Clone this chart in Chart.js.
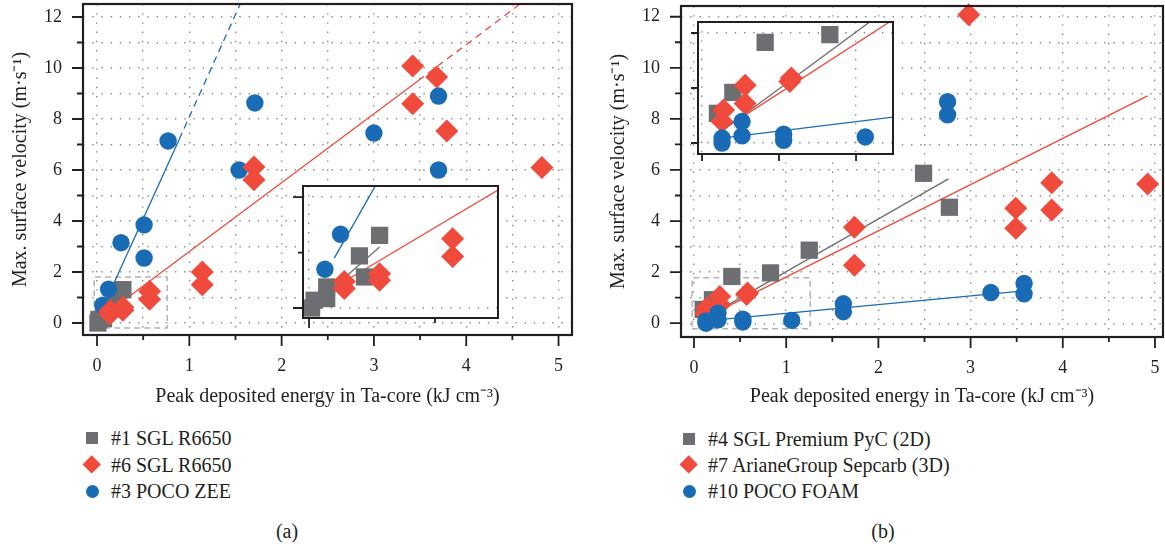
<!DOCTYPE html>
<html>
<head>
<meta charset="utf-8">
<script src="https://cdn.jsdelivr.net/npm/chart.js@4.4.1/dist/chart.umd.min.js"></script>
<style>
  body { margin: 0; background: #fff; }
  #wrap { position: relative; width: 1165px; height: 548px; overflow: hidden;
          font-family: 'Liberation Serif', 'Times New Roman', serif; color: #231f20; }
  canvas { position: absolute; }
  .leg { position: absolute; font-size: 20px; line-height: 20px; white-space: nowrap; }
  .mk { position: absolute; }
</style>
</head>
<body>
<div id="wrap">
  <canvas id="mainA" width="580" height="410" style="left:0;top:0"></canvas>
  <canvas id="mainB" width="585" height="412" style="left:580px;top:0"></canvas>
  <canvas id="insetA" width="220" height="160" style="left:288px;top:180px"></canvas>
  <canvas id="insetB" width="220" height="160" style="left:683px;top:12px"></canvas>
</div>
<script>
/*------------------------------- DATA -------------------------------*/
// (a) panel
const sgl1 = [
  {x: 0.01, y: 0.0}, {x: 0.02, y: 0.14}, {x: 0.07, y: 0.17}, {x: 0.07, y: 0.38},
  {x: 0.2, y: 0.94}, {x: 0.22, y: 0.56}, {x: 0.28, y: 1.31}
];
const sgl6 = [
  {x: 0.14, y: 0.35}, {x: 0.14, y: 0.48}, {x: 0.28, y: 0.5}, {x: 0.28, y: 0.62},
  {x: 0.57, y: 0.93}, {x: 0.57, y: 1.25}, {x: 1.14, y: 1.5}, {x: 1.14, y: 2.0},
  {x: 1.7, y: 5.62}, {x: 1.7, y: 6.12}, {x: 3.42, y: 8.6}, {x: 3.42, y: 10.08},
  {x: 3.68, y: 9.65}, {x: 3.79, y: 7.53}, {x: 4.82, y: 6.1}
];
const pocoZee = [
  {x: 0.063, y: 0.7}, {x: 0.125, y: 1.33}, {x: 0.26, y: 3.15}, {x: 0.51, y: 2.55},
  {x: 0.51, y: 3.85}, {x: 0.77, y: 7.14}, {x: 1.54, y: 6.0}, {x: 1.71, y: 8.63},
  {x: 3.0, y: 7.45}, {x: 3.7, y: 6.0}, {x: 3.7, y: 8.9}
];
// fit lines (a), end points
const fitSgl1 = [{x: 0.07, y: 0.26}, {x: 0.28, y: 1.1}];
const fitSgl6 = [{x: 0.1, y: 0.37}, {x: 3.48, y: 9.5}];
const fitSgl6Ext = [{x: 3.48, y: 9.5}, {x: 4.58, y: 12.5}];
const fitZee = [{x: 0.1, y: 0.9}, {x: 0.89, y: 7.2}];
const fitZeeExt = [{x: 0.89, y: 7.2}, {x: 1.55, y: 12.5}];
const zoomBoxA = [{x: -0.03, y: -0.2}, {x: 0.76, y: -0.2}, {x: 0.76, y: 1.8}, {x: -0.03, y: 1.8}, {x: -0.03, y: -0.2}];

// (b) panel
const pyc4 = [
  {x: 0.1, y: 0.54}, {x: 0.2, y: 0.92}, {x: 0.41, y: 1.83}, {x: 0.83, y: 1.97},
  {x: 1.25, y: 2.86}, {x: 2.49, y: 5.87}, {x: 2.77, y: 4.54}
];
const sepcarb7 = [
  {x: 0.13, y: 0.39}, {x: 0.14, y: 0.6}, {x: 0.28, y: 0.72}, {x: 0.28, y: 1.05},
  {x: 0.57, y: 1.12}, {x: 0.58, y: 1.18}, {x: 1.74, y: 3.76}, {x: 1.74, y: 2.27},
  {x: 2.98, y: 12.08}, {x: 3.49, y: 4.5}, {x: 3.49, y: 3.72}, {x: 3.88, y: 5.5},
  {x: 3.88, y: 4.43}, {x: 4.92, y: 5.45}
];
const pocoFoam = [
  {x: 0.13, y: 0.0}, {x: 0.13, y: 0.09}, {x: 0.26, y: 0.13}, {x: 0.26, y: 0.39},
  {x: 0.53, y: 0.05}, {x: 0.53, y: 0.16}, {x: 1.06, y: 0.11}, {x: 1.62, y: 0.45},
  {x: 1.62, y: 0.76}, {x: 2.75, y: 8.16}, {x: 2.75, y: 8.67}, {x: 3.22, y: 1.2},
  {x: 3.58, y: 1.15}, {x: 3.58, y: 1.56}
];
const fitPyc = [{x: 0.1, y: 0.16}, {x: 2.76, y: 5.65}];
const fitSepcarb = [{x: 0.1, y: 0.18}, {x: 4.92, y: 8.9}];
const fitFoam = [{x: 0.1, y: 0.08}, {x: 3.55, y: 1.26}];
const zoomBoxB = [{x: -0.02, y: -0.22}, {x: 1.26, y: -0.22}, {x: 1.26, y: 1.78}, {x: -0.02, y: 1.78}, {x: -0.02, y: -0.22}];

// axes
const xTitle = 'Peak deposited energy in Ta-core (kJ cm\u207B\u00B3)';
const yTitle = 'Max. surface velocity (m\u00B7s\u207B\u00B9)';
const legendA = ['#1 SGL R6650', '#6 SGL R6650', '#3 POCO ZEE'];
const legendB = ['#4 SGL Premium PyC (2D)', '#7 ArianeGroup Sepcarb (3D)', '#10 POCO FOAM'];

/*------------------------------- STYLE -------------------------------*/
const GRAY = '#6d6e71';
const RED = '#ef4a3c';
const BLUE = '#1a6bb5';
const INK = '#231f20';
const FONT = "'Liberation Serif', 'Times New Roman', serif";

//Markers och linjer
function marks(data, style, color) {
  const r = style === 'rect' ? 12.2 : style === 'rectRot' ? 11.5 : 8.7;
  return {
    data: data, pointStyle: style, pointRadius: r, pointHoverRadius: r,
    backgroundColor: color, borderWidth: 0, pointBorderWidth: 0, clip: false,
  };
}
function fit(data, color, dashed) {
  return {
    data: data, showLine: true, pointRadius: 0, borderColor: color,
    borderWidth: 1.3, borderDash: dashed ? [7, 5] : [], fill: false,
  };
}
function box(data) {
  return {
    data: data, showLine: true, pointRadius: 0, borderColor: '#b3b3b3',
    borderWidth: 1.5, borderDash: [6, 4], fill: false, clip: false,
  };
}

//Ram och tick-streck
const frameTicks = {
  id: 'frameTicks',
  beforeDraw(chart, args, opts) {
    if (!opts.whiteBg) return;
    const a = chart.chartArea;
    const ctx = chart.ctx;
    ctx.save();
    ctx.fillStyle = '#fff';
    ctx.fillRect(a.left, a.top, a.right - a.left, a.bottom - a.top);
    ctx.restore();
  },
  afterDraw(chart, args, opts) {
    const {ctx, chartArea: a, scales} = chart;
    ctx.save();
    ctx.strokeStyle = INK;
    ctx.lineWidth = opts.frame;
    ctx.strokeRect(a.left, a.top, a.right - a.left, a.bottom - a.top);
    ctx.lineWidth = 1.8;
    ctx.beginPath();
    scales.x.ticks.forEach((t) => {
      const px = scales.x.getPixelForValue(t.value);
      ctx.moveTo(px, a.bottom);
      ctx.lineTo(px, a.bottom + opts.xLen(t.value));
    });
    scales.y.ticks.forEach((t) => {
      const py = scales.y.getPixelForValue(t.value);
      ctx.moveTo(a.left, py);
      ctx.lineTo(a.left - opts.yLen(t.value), py);
    });
    ctx.stroke();
    ctx.restore();
  },
};

const isInt = (v) => Math.abs(v - Math.round(v)) < 1e-9;
const isHalf = (v) => isInt(v * 2);
const isEven = (v) => isInt(v / 2);

function gridColor(test) {
  return (ctx) => (ctx.tick && test(ctx.tick.value) ? '#8a8a8a' : 'rgba(0,0,0,0)');
}

//Fast storlek på axlarna, ingen extra padding från etiketter
function fixX(h) {
  return (s) => { s.height = h; s.paddingLeft = 0; s.paddingRight = 0; };
}
function fixY(w) {
  return (s) => { s.width = w; s.paddingTop = 0; s.paddingBottom = 0; };
}

function mainOptions(p) {
  return {
    responsive: false,
    animation: false,
    events: [],
    layout: { autoPadding: false, padding: { top: p.top, right: p.right, left: 0, bottom: 0 } },
    plugins: {
      legend: { display: false },
      tooltip: { enabled: false },
      frameTicks: {
        frame: 2.2,
        xLen: (v) => (isInt(v) ? 11 : 5),
        yLen: (v) => (isEven(v) ? 11 : 6),
      },
    },
    scales: {
      x: {
        type: 'linear', min: p.xMin, max: p.xMax,
        afterBuildTicks: (s) => { s.ticks = s.ticks.filter((t) => isHalf(t.value)); },
        afterFit: fixX(p.xH),
        ticks: {
          stepSize: 0.5, includeBounds: false, autoSkip: false, maxRotation: 0,
          padding: 20, color: INK, font: { family: FONT, size: 18 },
          callback: (v) => (isInt(v) ? v : ''),
        },
        grid: { drawTicks: false, color: gridColor(isHalf), lineWidth: 1.4 },
        border: { display: false, dash: [1.4, 7.8] },
        title: {
          display: true, text: xTitle, color: INK,
          font: { family: FONT, size: 20 }, padding: { top: 0, bottom: p.xTitlePad },
        },
      },
      y: {
        type: 'linear', min: p.yMin, max: p.yMax,
        afterBuildTicks: (s) => { s.ticks = s.ticks.filter((t) => isInt(t.value)); },
        afterFit: fixY(p.yW),
        ticks: {
          stepSize: 1, includeBounds: false, autoSkip: false,
          padding: 21, color: INK, font: { family: FONT, size: 18 },
          callback: (v) => (isEven(v) ? v : ''),
        },
        grid: { drawTicks: false, color: gridColor(isInt), lineWidth: 1.4 },
        border: { display: false, dash: [1.4, 7.8] },
        title: {
          display: true, text: yTitle, color: INK,
          font: { family: FONT, size: 20 }, padding: { top: p.yTitlePad, bottom: 0 },
        },
      },
    },
  };
}

function insetOptions(p) {
  return {
    responsive: false,
    animation: false,
    events: [],
    layout: { autoPadding: false, padding: p.pad },
    plugins: {
      legend: { display: false },
      tooltip: { enabled: false },
      frameTicks: { frame: 2, whiteBg: true, xLen: p.xLen, yLen: p.yLen },
    },
    scales: {
      x: {
        type: 'linear', min: p.xMin, max: p.xMax,
        afterBuildTicks: (s) => { s.ticks = s.ticks.filter((t) => isHalf(t.value)); },
        afterFit: fixX(0),
        ticks: { display: false, stepSize: 0.5, includeBounds: false, autoSkip: false },
        grid: { drawTicks: false, color: gridColor(isInt), lineWidth: 1.4 },
        border: { display: false, dash: [1.4, 7.8] },
      },
      y: {
        type: 'linear', min: p.yMin, max: p.yMax,
        afterBuildTicks: (s) => { s.ticks = s.ticks.filter((t) => isInt(t.value)); },
        afterFit: fixY(0),
        ticks: { display: false, stepSize: 1, includeBounds: false, autoSkip: false },
        grid: { drawTicks: false, color: gridColor(isEven), lineWidth: 1.4 },
        border: { display: false, dash: [1.4, 7.8] },
      },
    },
  };
}

function insetSets(sets) {
  return sets.map((d) => Object.assign({}, d, { clip: 0 }));
}

/*------------------------------- PANEL (a) -------------------------------*/
const setsA = [
  marks(sgl6, 'rectRot', RED),
  marks(pocoZee, 'circle', BLUE),
  marks(sgl1, 'rect', GRAY),
  fit(fitSgl1, GRAY),
  fit(fitSgl6, RED),
  fit(fitSgl6Ext, RED, true),
  fit(fitZee, BLUE),
  fit(fitZeeExt, BLUE, true),
];

new Chart(document.getElementById('mainA'), {
  type: 'scatter',
  data: { datasets: setsA.concat([box(zoomBoxA)]) },
  options: mainOptions({
    top: 4, right: 8, xMin: -0.152, xMax: 5.146, yMin: -0.47, yMax: 12.51,
    xH: 75, yW: 83, xTitlePad: 1, yTitlePad: 9,
  }),
  plugins: [frameTicks],
});

new Chart(document.getElementById('insetA'), {
  type: 'scatter',
  data: { datasets: insetSets(setsA) },
  options: insetOptions({
    pad: { left: 15, top: 6, right: 10, bottom: 22 },
    xMin: -0.024, xMax: 0.75, yMin: -0.18, yMax: 2.2,
    xLen: (v) => (isInt(v) ? 10 : 5),
    yLen: (v) => (isEven(v) ? 10 : 5),
  }),
  plugins: [frameTicks],
});

/*------------------------------- PANEL (b) -------------------------------*/
const setsB = [
  marks(pocoFoam, 'circle', BLUE),
  marks(sepcarb7, 'rectRot', RED),
  marks(pyc4, 'rect', GRAY),
  fit(fitPyc, GRAY),
  fit(fitSepcarb, RED),
  fit(fitFoam, BLUE),
];

new Chart(document.getElementById('mainB'), {
  type: 'scatter',
  data: { datasets: setsB.concat([box(zoomBoxB)]) },
  options: mainOptions({
    top: 6, right: 2, xMin: -0.141, xMax: 5.087, yMin: -0.54, yMax: 12.42,
    xH: 75, yW: 101, xTitlePad: 3, yTitlePad: 27,
  }),
  plugins: [frameTicks],
});

new Chart(document.getElementById('insetB'), {
  type: 'scatter',
  data: { datasets: insetSets(setsB) },
  options: insetOptions({
    pad: { left: 15, top: 10, right: 10, bottom: 18 },
    xMin: -0.026, xMax: 1.24, yMin: -0.2, yMax: 2.2,
    xLen: () => 7,
    yLen: () => 7,
  }),
  plugins: [frameTicks],
});

/*------------------------------- LEGEND -------------------------------*/
const wrap = document.getElementById('wrap');
const legendStyles = [['rect', GRAY], ['rectRot', RED], ['circle', BLUE]];

function addLegend(labels, mx, tx, rows) {
  labels.forEach((label, i) => {
    const [style, color] = legendStyles[i];
    const s = style === 'rect' ? 12 : style === 'circle' ? 13 : 13.4;
    const m = document.createElement('div');
    m.className = 'mk';
    m.style.cssText = `left:${mx - s / 2}px;top:${rows[i] - s / 2}px;width:${s}px;height:${s}px;background:${color};`
      + (style === 'circle' ? 'border-radius:50%;' : '')
      + (style === 'rectRot' ? 'transform:rotate(45deg);' : '');
    wrap.appendChild(m);

    const t = document.createElement('div');
    t.className = 'leg';
    t.textContent = label;
    t.style.left = tx + 'px';
    t.style.top = (rows[i] - 10) + 'px';
    wrap.appendChild(t);
  });
}
addLegend(legendA, 92, 111, [438, 465, 491]);
addLegend(legendB, 689, 708, [439, 465, 491]);

function addCaption(text, cx, cy) {
  const t = document.createElement('div');
  t.className = 'leg';
  t.textContent = text;
  t.style.left = (cx - 15) + 'px';
  t.style.width = '30px';
  t.style.textAlign = 'center';
  t.style.top = (cy - 10) + 'px';
  wrap.appendChild(t);
}
addCaption('(a)', 287, 531);
addCaption('(b)', 883, 531);
</script>
</body>
</html>
